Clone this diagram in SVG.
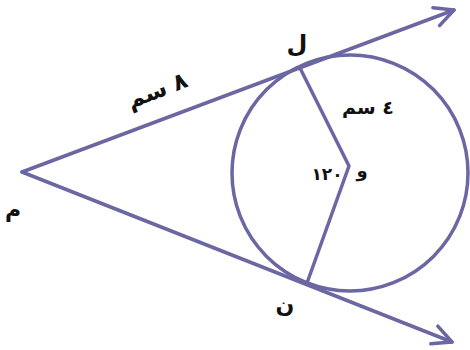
<svg xmlns="http://www.w3.org/2000/svg" width="470" height="350" viewBox="0 0 470 350">
  <style>
    .ln { stroke: #6a67a2; stroke-width: 3.5; fill: none; stroke-linecap: round; stroke-linejoin: round; }
    .lbl { font-family: "DejaVu Sans", "Noto Sans", sans-serif; fill: #111; text-anchor: middle; font-weight: bold; }
  </style>
  <defs>
    <marker id="arr" markerUnits="userSpaceOnUse" markerWidth="40" markerHeight="40" viewBox="-25 -20 30 40" refX="0" refY="0" orient="auto" overflow="visible">
      <path d="M -19 -9.5 L 0 0 L -19 9.5" fill="none" stroke="#6a67a2" stroke-width="3.5" stroke-linecap="round" stroke-linejoin="round"/>
    </marker>
  </defs>
  <rect width="470" height="350" fill="#ffffff"/>
  <g id="circle">
    <circle class="ln" cx="350" cy="173" r="118"/>
  </g>
  <g id="connectors">
    <line class="ln" x1="22" y1="172" x2="454" y2="10" marker-end="url(#arr)"/>
    <line class="ln" x1="22" y1="172" x2="452" y2="342" marker-end="url(#arr)"/>
    <polyline class="ln" points="300,68 349,166 307,283"/>
  </g>
  <g id="node-m"><text class="lbl" x="13" y="217" font-size="22">م</text></g>
  <g id="node-l"><text class="lbl" x="297" y="52" font-size="24">ل</text></g>
  <g id="node-n"><text class="lbl" x="285" y="312" font-size="22">ن</text></g>
  <g id="node-o"><text class="lbl" x="362" y="177" font-size="18">و</text><text class="lbl" x="327" y="180" font-size="17">١٢٠</text></g>
  <g id="label-8"><text class="lbl" x="157" y="98" font-size="23" transform="rotate(-21 157 90)">٨ سم</text></g>
  <g id="label-4"><text class="lbl" x="368" y="114" font-size="19">٤ سم</text></g>
</svg>
